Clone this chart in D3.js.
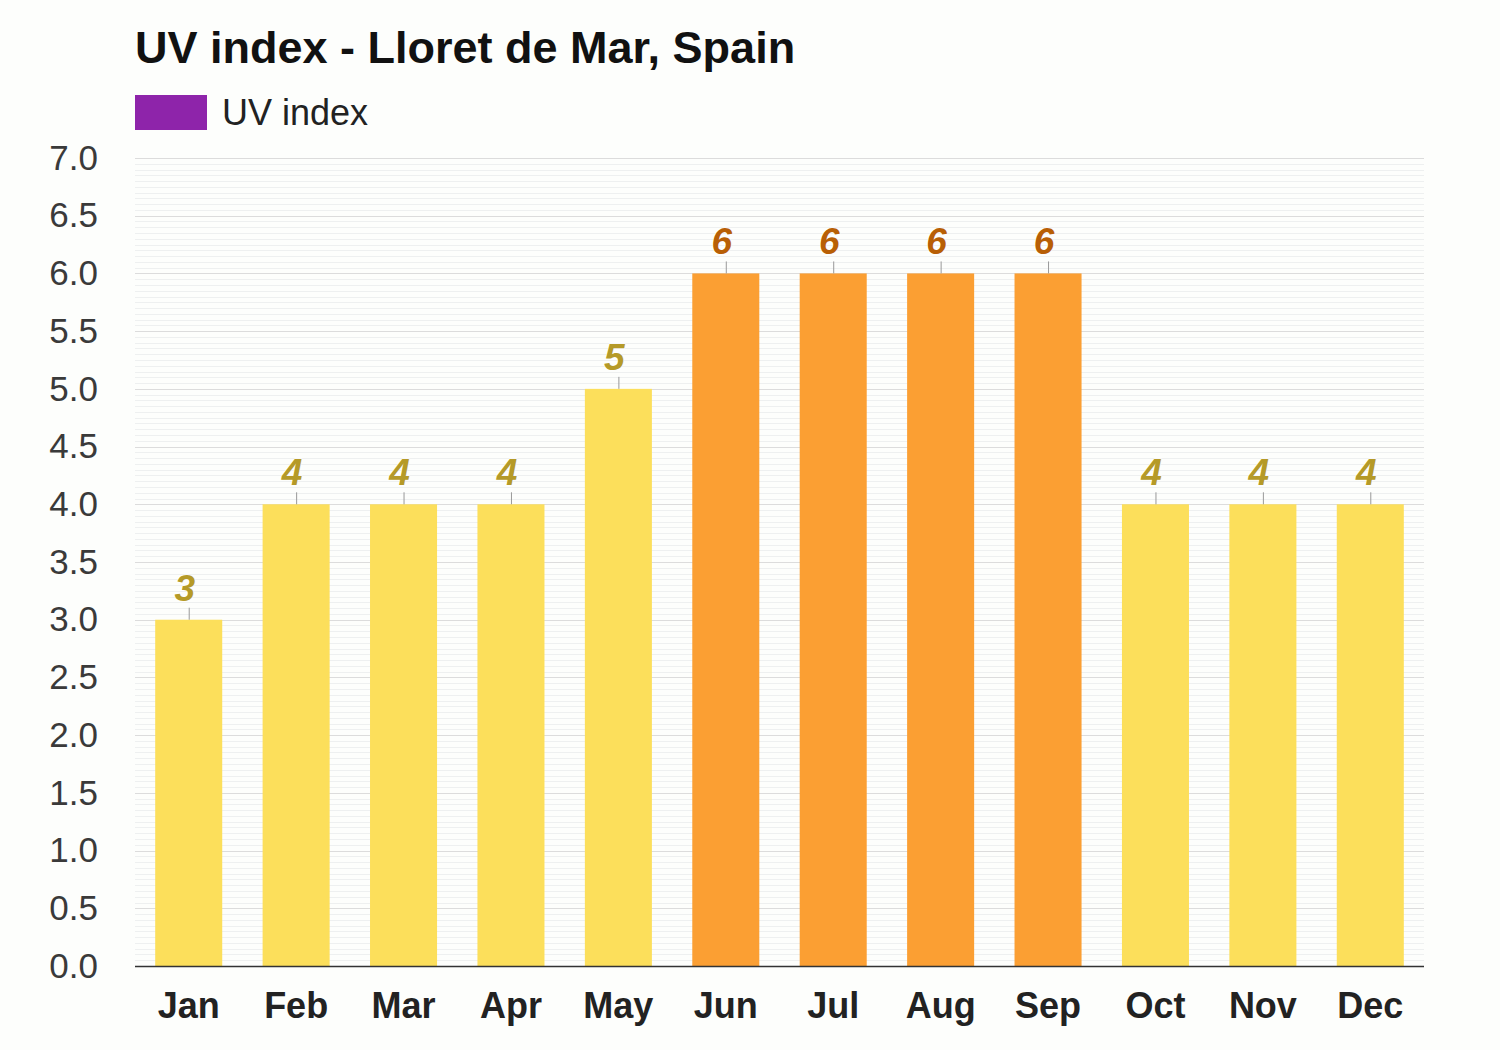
<!DOCTYPE html>
<html><head><meta charset="utf-8">
<script src="https://cdn.jsdelivr.net/npm/d3@7"></script>
<style>
html,body{margin:0;padding:0;background:#fdfefc;}
svg{display:block;font-family:"Liberation Sans",Arial,sans-serif;}
</style></head>
<body>
<svg id="chart" width="1500" height="1050"></svg>
<script>
const months = ["Jan","Feb","Mar","Apr","May","Jun","Jul","Aug","Sep","Oct","Nov","Dec"];
const uvValues = [3,4,4,4,5,6,6,6,6,4,4,4];
const yTicks = [0,0.5,1,1.5,2,2.5,3,3.5,4,4.5,5,5.5,6,6.5,7];
const title = "UV index - Lloret de Mar, Spain";
const seriesName = "UV index";

(function(){
const svg = d3.select("#chart");
const pLeft = 135, pRight = 1424, pTop = 158, pBottom = 966;

const x = d3.scaleBand().domain(months).range([pLeft, pRight]).paddingInner(0.376).paddingOuter(0.188);
const y = d3.scaleLinear().domain([0,7]).range([pBottom, pTop]);

svg.append("rect").attr("width",1500).attr("height",1050).attr("fill","#fdfefc");

// minor grid
const minor = d3.range(0, 7.0001, 0.05).filter(v => Math.abs(v*2 - Math.round(v*2)) > 1e-6);
svg.append("g").selectAll("line").data(minor).join("line")
  .attr("x1",pLeft).attr("x2",pRight)
  .attr("y1",d=>Math.round(y(d))+0.5).attr("y2",d=>Math.round(y(d))+0.5)
  .attr("stroke","#eef0f0").attr("stroke-width",1);
// major grid
svg.append("g").selectAll("line").data(yTicks.filter(d=>d>0)).join("line")
  .attr("x1",pLeft).attr("x2",pRight)
  .attr("y1",d=>Math.round(y(d))+0.5).attr("y2",d=>Math.round(y(d))+0.5)
  .attr("stroke","#dcdcdc").attr("stroke-width",1);

// y axis labels
const yAxis = d3.axisLeft(y).tickValues(yTicks).tickFormat(d3.format(".1f")).tickSize(0).tickPadding(37);
const yg = svg.append("g").attr("transform",`translate(${pLeft},0)`).call(yAxis);
yg.select(".domain").remove();
yg.selectAll("text").attr("font-size",35).attr("fill","#3a3a3a").attr("font-family","Liberation Sans, Arial, sans-serif");

const isHigh = v => v >= 6;
// bars
svg.append("g").selectAll("rect").data(uvValues).join("rect")
  .attr("x",(d,i)=>x(months[i]))
  .attr("width",x.bandwidth())
  .attr("y",d=>y(d))
  .attr("height",d=>y(0)-y(d))
  .attr("fill",d=>isHigh(d)?"#fb9f33":"#fcdf5b");

// leader lines
svg.append("g").selectAll("line").data(uvValues).join("line")
  .attr("x1",(d,i)=>x(months[i])+x.bandwidth()/2+0.5)
  .attr("x2",(d,i)=>x(months[i])+x.bandwidth()/2+0.5)
  .attr("y1",d=>y(d)).attr("y2",d=>y(d)-12)
  .attr("stroke","#999").attr("stroke-width",1);

// value labels
svg.append("g").selectAll("text").data(uvValues).join("text")
  .attr("x",(d,i)=>x(months[i])+x.bandwidth()/2-4)
  .attr("y",d=>y(d)-19)
  .attr("text-anchor","middle")
  .attr("font-size",37).attr("font-weight","bold").attr("font-style","italic")
  .attr("fill",d=>isHigh(d)?"#b85f05":"#b59a28")
  .attr("stroke","#ffffff").attr("stroke-width",1).attr("paint-order","stroke")
  .text(d=>d);

// x axis line
svg.append("line").attr("x1",pLeft).attr("x2",pRight).attr("y1",pBottom+0.5).attr("y2",pBottom+0.5)
  .attr("stroke","#333").attr("stroke-width",1.5);

// x labels
const xAxis = d3.axisBottom(x).tickSize(0).tickPadding(26);
const xg = svg.append("g").attr("transform",`translate(0,${pBottom})`).call(xAxis);
xg.select(".domain").remove();
xg.selectAll("text").attr("font-size",36).attr("font-weight","bold").attr("fill","#222")
  .attr("font-family","Liberation Sans, Arial, sans-serif");

// title
svg.append("text").attr("x",135).attr("y",63).attr("font-size",45).attr("font-weight","bold")
  .attr("fill","#111").text(title);

// legend
svg.append("rect").attr("x",135).attr("y",95).attr("width",72).attr("height",35).attr("fill","#8e24aa");
svg.append("text").attr("x",222).attr("y",125).attr("font-size",36).attr("fill","#222").text(seriesName);
})();
</script>
</body></html>
